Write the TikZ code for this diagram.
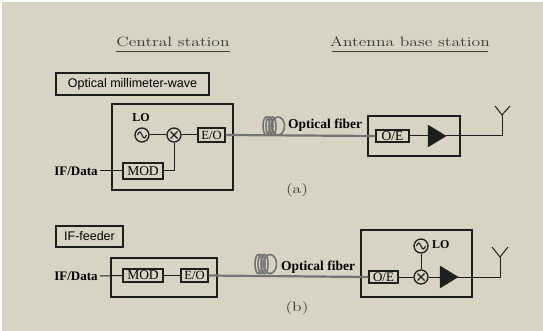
\documentclass[tikz,border=0pt]{standalone}
\usepackage{fontspec}
\newfontfamily\sansf{Liberation Sans}
\newfontfamily\serf{Liberation Serif}
\definecolor{bg}{RGB}{217,211,196}
\definecolor{ink}{RGB}{30,30,30}
\definecolor{fib}{RGB}{115,115,115}
\newcommand{\wide}[1]{\scalebox{1.3}[1]{#1}}
\tikzset{
  lbl/.style={inner sep=0pt},
  head/.style={inner sep=0pt, font=\fontsize{13.5}{13.5}\selectfont, text=ink!90},
  tag/.style={draw=ink, line width=1.1pt, inner sep=0pt, font=\sansf\fontsize{12.5}{13}\selectfont},
  blk/.style={draw=ink, line width=1.1pt, inner sep=0pt, font=\serf\fontsize{12.5}{13}\selectfont},
  frame/.style={draw=ink, line width=1.1pt},
  wire/.style={draw=ink, line width=1pt},
  fiber/.style={draw=fib, line width=2.2pt},
  bold/.style={inner sep=0pt, font=\serf\bfseries\fontsize{13}{13}\selectfont},
  circ/.style={circle, draw=ink, line width=1.3pt, minimum size=14pt, inner sep=0pt},
  amp/.style={fill=ink, draw=ink},
  coil/.style={draw=fib, line width=1.6pt}
}
\begin{document}
\begin{tikzpicture}[x=1pt,y=-1pt]
\useasboundingbox (0,0) rectangle (543,331);
\fill[white] (0,0) rectangle (543,331);
\fill[bg] (2,2) rectangle (543,331);

% headings
\node[head] (cs) at (173,42) {\wide{Central station}};
\draw[ink!85, line width=0.8pt] (116,51) -- (230,51);
\node[head] (abs) at (410,42) {\wide{Antenna base station}};
\draw[ink!85, line width=0.8pt] (332,51) -- (488,51);

% ===== (a) =====
\node[tag, minimum width=153pt, minimum height=22pt] (omw) at (132.5,84) {Optical millimeter-wave};
\draw[frame] (112,104) rectangle (233,190);
\node[bold, font=\serf\bfseries\fontsize{12}{12}\selectfont] (lo1t) at (141,118) {LO};
\node[circ] (osc1) at (142,135) {};
\draw[ink, line width=1.1pt] ([xshift=-4.5pt]osc1.center) sin ++(2.25,-3) cos ++(2.25,3) sin ++(2.25,3) cos ++(2.25,-3);
\node[circ] (mix1) at (174,135) {};
\draw[ink, line width=1.1pt] ([shift={(-3.5,-3.5)}]mix1.center) -- ++(7,7) ([shift={(3.5,-3.5)}]mix1.center) -- ++(-7,7);
\node[blk, minimum width=27pt, minimum height=14pt, font=\serf\fontsize{12.5}{12.5}\selectfont] (eo1) at (211.5,135) {E/O};
\node[blk, minimum width=40pt, minimum height=16pt, font=\serf\fontsize{13.5}{13.5}\selectfont] (mod1) at (143,171) {MOD};
\node[bold] (if1) at (76,171) {IF/Data};
\draw[wire] (if1.east) ++(2,0) -- (mod1.west);
\draw[wire] (osc1) -- (mix1);
\draw[wire] (mix1) -- (eo1);
\draw[wire] (mod1.east) -| (mix1.south);

\draw[frame] (368,116) rectangle (460,156);
\node[blk, minimum width=33pt, minimum height=12pt, font=\serf\fontsize{13.5}{13.5}\selectfont] (oe1) at (392.5,136) {O/E};
\draw[fiber] (eo1.east) -- (oe1.west);
\foreach \dx/\r in {3.5/3.5,6.5/3.5,9.5/3.5,15/6.5}
  \draw[coil] (263+\dx,126) ellipse ({\r} and 9);
\node[bold, anchor=west, font=\serf\bfseries\fontsize{13.5}{13.5}\selectfont] (of1) at (288,125) {Optical fiber};
\coordinate (amp1l) at (428,136);
\fill[amp] (428,125) -- (446,136) -- (428,147) -- cycle;
\coordinate (amp1r) at (446,136);
\draw[wire] (oe1.east) -- (amp1l);
\coordinate (ant1) at (502,115);
\draw[wire] (amp1r) -| (ant1);
\draw[wire] (495,106) -- (ant1) -- (510,106);
\node[head] (la) at (297,190) {\wide{(a)}};

% ===== (b) =====
\node[tag, minimum width=67pt, minimum height=21pt] (iff) at (89.5,236.5) {IF-feeder};
\draw[frame] (111,258) rectangle (217,297);
\node[blk, minimum width=40pt, minimum height=13pt, font=\serf\fontsize{13.5}{13.5}\selectfont] (mod2) at (143,275.5) {MOD};
\node[blk, minimum width=27pt, minimum height=13pt, font=\serf\fontsize{12.5}{12.5}\selectfont] (eo2) at (194.5,275.5) {E/O};
\node[bold] (if2) at (76,276) {IF/Data};
\draw[wire] (if2.east) ++(2,0) -- (mod2.west);
\draw[wire] (mod2) -- (eo2);

\draw[frame] (361,230) rectangle (472,297);
\node[blk, minimum width=29pt, minimum height=12pt, font=\serf\fontsize{13}{13}\selectfont] (oe2) at (383.5,277) {O/E};
\draw[fiber] (eo2.east) -- (oe2.west);
\foreach \dx/\r in {3.5/3.5,6.5/3.5,9.5/3.5,15/6.5}
  \draw[coil] (255+\dx,264) ellipse ({\r} and 9.5);
\node[bold, anchor=west, font=\serf\bfseries\fontsize{13.5}{13.5}\selectfont] (of2) at (281,267) {Optical fiber};
\node[circ] (mix2) at (421,277) {};
\draw[ink, line width=1.1pt] ([shift={(-3.5,-3.5)}]mix2.center) -- ++(7,7) ([shift={(3.5,-3.5)}]mix2.center) -- ++(-7,7);
\node[circ] (osc2) at (421,246) {};
\draw[ink, line width=1.1pt] ([xshift=-4.5pt]osc2.center) sin ++(2.25,-3) cos ++(2.25,3) sin ++(2.25,3) cos ++(2.25,-3);
\node[bold, anchor=west, font=\serf\bfseries\fontsize{12}{12}\selectfont] (lo2t) at (432,245) {LO};
\draw[wire] (oe2) -- (mix2);
\draw[wire] (osc2) -- (mix2);
\coordinate (amp2l) at (440,277);
\fill[amp] (440,266) -- (458,277) -- (440,288) -- cycle;
\coordinate (amp2r) at (458,277);
\draw[wire] (mix2) -- (amp2l);
\coordinate (ant2) at (500,257);
\draw[wire] (amp2r) -| (ant2);
\draw[wire] (492,247) -- (ant2) -- (508,247);
\node[head] (lb) at (297,308) {\wide{(b)}};
\end{tikzpicture}
\end{document}
